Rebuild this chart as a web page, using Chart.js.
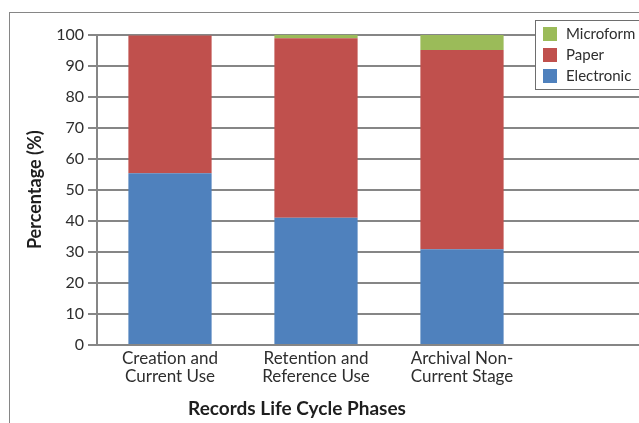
<!DOCTYPE html>
<html>
<head>
<meta charset="utf-8">
<script src="https://cdn.jsdelivr.net/npm/chart.js@4.4.1/dist/chart.umd.min.js"></script>
<style>
  html, body { margin: 0; padding: 0; background: #fff; overflow: hidden; }
  #wrap { width: 639px; height: 423px; overflow: hidden; }
</style>
</head>
<body>
<div id="wrap"><canvas id="recChart" width="700" height="423"></canvas></div>
<script>
const C_BLUE = '#4f81bd';
const C_RED = '#c0504d';
const C_GREEN = '#9bbb59';
const C_GRID = '#868686';
const C_TEXT = '#2e2e2e';

// data (4th slot is the empty category)
const categories = [['Creation and', 'Current Use'], ['Retention and', 'Reference Use'], ['Archival Non-', 'Current Stage'], ''];
const electronic = [55.3, 41.0, 30.8, null];
const paper = [44.4, 57.8, 64.2, null];
const microform = [0, 1.1, 4.8, null];
const yTicks = [0, 10, 20, 30, 40, 50, 60, 70, 80, 90, 100];
const xTitle = 'Records Life Cycle Phases';
const yTitle = 'Percentage (%)';

const FONT = 'Lato, "Open Sans", sans-serif';

// outer frame, legend box and x title
const decor = {
    id: 'decor',
    beforeDraw(chart) {
        let ctx = chart.ctx;
        ctx.save();
        ctx.strokeStyle = C_GRID;
        ctx.lineWidth = 1;
        ctx.strokeRect(9.5, 12.5, 800, 600);
        ctx.restore();
    },
    afterDraw(chart) {
        let ctx = chart.ctx;
        ctx.save();
        // legend
        ctx.fillStyle = '#fff';
        ctx.fillRect(535.5, 20.5, 200, 69);
        ctx.strokeStyle = '#6e6e6e';
        ctx.lineWidth = 1;
        ctx.strokeRect(535.5, 20.5, 200, 69);
        let items = chart.data.datasets.slice().reverse();
        ctx.font = '15px ' + FONT;
        ctx.textBaseline = 'middle';
        items.forEach((ds, i) => {
            ctx.fillStyle = ds.backgroundColor;
            ctx.fillRect(543, 27 + i * 21, 14, 14);
            ctx.fillStyle = C_TEXT;
            ctx.fillText(ds.label, 566, 34 + i * 21);
        });
        // x axis title
        ctx.font = 'bold 19px ' + FONT;
        ctx.textAlign = 'center';
        ctx.fillStyle = '#1e1e1e';
        ctx.fillText(xTitle, 297, 409);
        ctx.restore();
    }
};

let chart = new Chart(document.getElementById('recChart'), {
    type: 'bar',
    data: {
        labels: categories,
        datasets: [
            { label: 'Electronic', data: electronic, backgroundColor: C_BLUE },
            { label: 'Paper', data: paper, backgroundColor: C_RED },
            { label: 'Microform', data: microform, backgroundColor: C_GREEN },
        ],
    },
    options: {
        responsive: false,
        animation: false,
        devicePixelRatio: 1,
        layout: { padding: { left: 24, top: 34.5, right: 19, bottom: 0 } },
        datasets: { bar: { categoryPercentage: 1, barPercentage: 0.57 } },
        plugins: {
            legend: { display: false },
            tooltip: { enabled: false },
        },
        scales: {
            x: {
                stacked: true,
                grid: { display: false, drawTicks: false },
                border: { display: true, color: C_GRID, width: 2 },
                ticks: {
                    color: C_TEXT,
                    font: { family: FONT, size: 17, lineHeight: 1.08 },
                    padding: 4,
                    maxRotation: 0,
                    autoSkip: false,
                },
                afterFit: s => { s.height = 78; },
            },
            y: {
                stacked: true,
                min: 0,
                max: 100,
                afterBuildTicks: s => { s.ticks = yTicks.map(v => ({ value: v })); },
                grid: { color: C_GRID, lineWidth: 2, tickLength: 9, tickColor: C_GRID },
                border: { display: true, color: C_GRID, width: 2 },
                ticks: {
                    color: C_TEXT,
                    font: { family: FONT, size: 16 },
                    padding: 4,
                },
                title: {
                    display: true,
                    text: yTitle,
                    color: '#1e1e1e',
                    font: { family: FONT, size: 18, weight: 'bold' },
                    padding: 0,
                },
                afterFit: s => { s.width = 73; },
            },
        },
    },
    plugins: [decor],
});
</script>
</body>
</html>
